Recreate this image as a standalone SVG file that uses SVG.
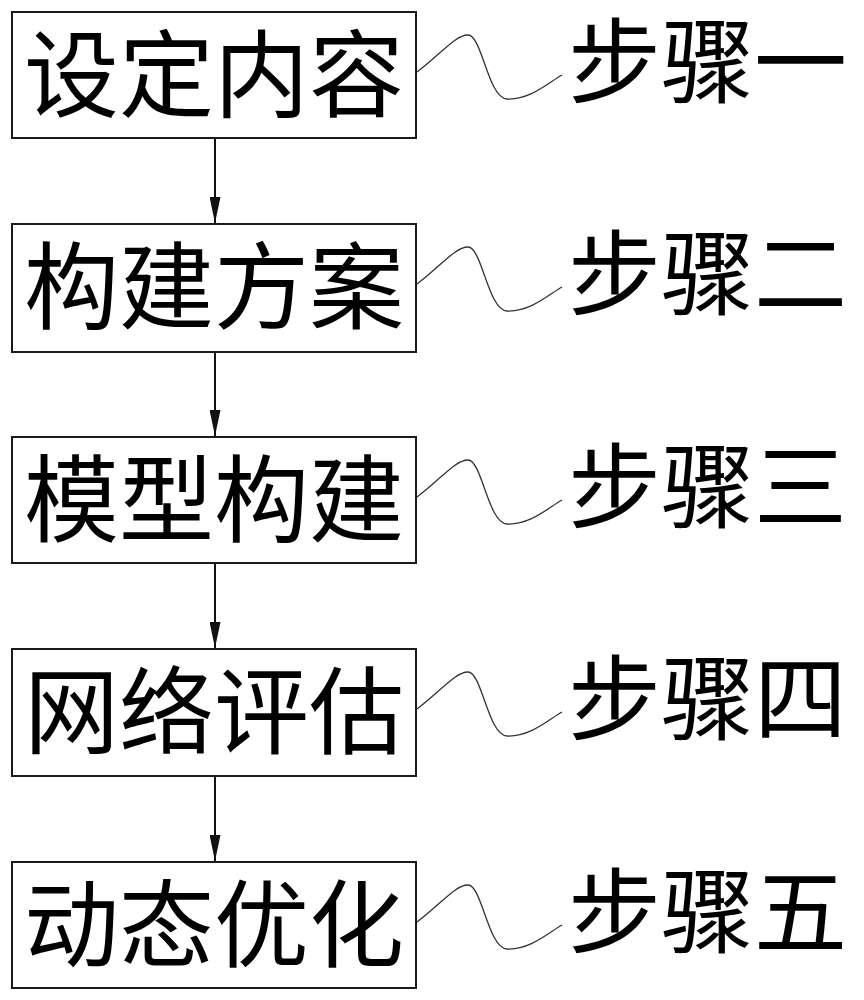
<svg xmlns="http://www.w3.org/2000/svg" width="864" height="1000" viewBox="0 0 864 1000">
<style>
.box{fill:#fff;stroke:#1a1a1a;stroke-width:2}
.t{font-family:"Noto Sans CJK SC","Noto Sans CJK JP",sans-serif;font-size:95px;fill:#000;text-anchor:middle}
.lbl{font-family:"Noto Sans CJK SC","Noto Sans CJK JP",sans-serif;font-size:93px;fill:#000}
.arrow{stroke:#111;stroke-width:2;fill:none;marker-end:url(#ah)}
.wave{stroke:#333;stroke-width:1.3;fill:none}
</style>
<defs>
<marker id="ah" markerWidth="26" markerHeight="11" refX="26" refY="5.5" orient="auto" markerUnits="userSpaceOnUse" viewBox="0 0 26 11">
<path d="M0,0 L26,5.5 L0,11 Z" fill="#111"/>
</marker>
</defs>
<rect width="864" height="1000" fill="#fff"/>
<g id="connectors">
<path class="arrow" d="M215,139 V223"/>
<path class="arrow" d="M215,352 V436"/>
<path class="arrow" d="M215,563 V648"/>
<path class="arrow" d="M215,776 V861"/>
<path class="wave" d="M417,72 C440,55 455,35 468,35 C482,35 488,98 507,99 C530,100 548,83 562,75"/>
<path class="wave" transform="translate(0,212)" d="M417,72 C440,55 455,35 468,35 C482,35 488,98 507,99 C530,100 548,83 562,75"/>
<path class="wave" transform="translate(0,425)" d="M417,72 C440,55 455,35 468,35 C482,35 488,98 507,99 C530,100 548,83 562,75"/>
<path class="wave" transform="translate(0,637)" d="M417,72 C440,55 455,35 468,35 C482,35 488,98 507,99 C530,100 548,83 562,75"/>
<path class="wave" transform="translate(0,850)" d="M417,72 C440,55 455,35 468,35 C482,35 488,98 507,99 C530,100 548,83 562,75"/>
</g>
<g id="step1">
<rect class="box" x="12" y="12" width="404" height="126"/>
<text class="t" x="214" y="110">设定内容</text>
</g>
<g id="step2">
<rect class="box" x="12" y="224" width="404" height="128"/>
<text class="t" x="214" y="322">构建方案</text>
</g>
<g id="step3">
<rect class="box" x="12" y="437" width="404" height="126"/>
<text class="t" x="214" y="535">模型构建</text>
</g>
<g id="step4">
<rect class="box" x="12" y="649" width="404" height="127"/>
<text class="t" x="214" y="747">网络评估</text>
</g>
<g id="step5">
<rect class="box" x="12" y="862" width="404" height="126"/>
<text class="t" x="214" y="960">动态优化</text>
</g>
<g id="label1"><text class="lbl" x="568" y="96">步骤一</text></g>
<g id="label2"><text class="lbl" x="568" y="308">步骤二</text></g>
<g id="label3"><text class="lbl" x="568" y="521">步骤三</text></g>
<g id="label4"><text class="lbl" x="568" y="733">步骤四</text></g>
<g id="label5"><text class="lbl" x="568" y="946">步骤五</text></g>
</svg>
